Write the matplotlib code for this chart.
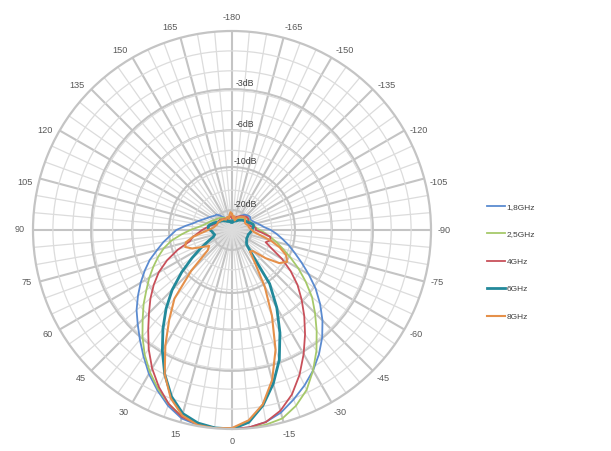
import numpy as np
import matplotlib
matplotlib.use("Agg")
import matplotlib.pyplot as plt

# ---- data -------------------------------------------------------------
angles_deg = list(range(-180, 181, 5))

series_names = ["1,8GHz", "2,5GHz", "4GHz", "6GHz", "8GHz"]

r_18 = [0.05, 0.05, 0.055, 0.06, 0.065, 0.07, 0.08, 0.09, 0.10, 0.105, 0.11, 0.112, 0.105,
        0.11, 0.118, 0.13, 0.145, 0.163, 0.195, 0.225, 0.257, 0.295, 0.335, 0.385, 0.445,
        0.513, 0.578, 0.643, 0.705, 0.762, 0.815, 0.862, 0.906, 0.95, 0.98, 0.996,
        1.0,
        0.998, 0.995, 0.98, 0.94, 0.888, 0.835, 0.775, 0.72, 0.67, 0.626, 0.577, 0.53,
        0.484, 0.44, 0.39, 0.35, 0.31, 0.28, 0.235, 0.197, 0.175, 0.155, 0.14, 0.13,
        0.12, 0.112, 0.11, 0.095, 0.08, 0.07, 0.065, 0.06, 0.055, 0.05, 0.05, 0.05]

r_25 = [0.04, 0.045, 0.05, 0.055, 0.06, 0.065, 0.07, 0.075, 0.08, 0.085, 0.09, 0.095, 0.10,
        0.10, 0.105, 0.11, 0.115, 0.122, 0.14, 0.165, 0.194, 0.23, 0.27, 0.322, 0.385,
        0.452, 0.525, 0.59, 0.662, 0.74, 0.815, 0.887, 0.94, 0.98, 0.993, 0.999,
        1.0,
        0.998, 0.99, 0.97, 0.93, 0.88, 0.825, 0.765, 0.70, 0.635, 0.58, 0.525, 0.48,
        0.436, 0.395, 0.355, 0.31, 0.255, 0.21, 0.17, 0.145, 0.13, 0.12, 0.11, 0.10,
        0.095, 0.09, 0.085, 0.08, 0.075, 0.07, 0.065, 0.06, 0.055, 0.05, 0.045, 0.04]

r_4 = [0.06, 0.07, 0.06, 0.065, 0.07, 0.075, 0.08, 0.085, 0.09, 0.095, 0.10, 0.10, 0.095,
       0.09, 0.085, 0.09, 0.10, 0.12, 0.12, 0.15, 0.195, 0.20, 0.18, 0.22, 0.29,
       0.36, 0.43, 0.495, 0.565, 0.64, 0.72, 0.803, 0.88, 0.94, 0.98, 0.995,
       1.0,
       0.998, 0.99, 0.973, 0.93, 0.87, 0.803, 0.73, 0.655, 0.59, 0.535, 0.48, 0.425,
       0.36, 0.29, 0.22, 0.20, 0.17, 0.15, 0.13, 0.115, 0.10, 0.09, 0.085, 0.08,
       0.08, 0.08, 0.075, 0.07, 0.07, 0.065, 0.06, 0.06, 0.06, 0.065, 0.07, 0.06]

r_6 = [0.04, 0.04, 0.045, 0.045, 0.05, 0.05, 0.055, 0.06, 0.065, 0.07, 0.075, 0.08, 0.085,
       0.09, 0.10, 0.11, 0.11, 0.105, 0.10, 0.095, 0.09, 0.085, 0.085, 0.085, 0.085,
       0.09, 0.095, 0.105, 0.15, 0.33, 0.45, 0.57, 0.695, 0.80, 0.895, 0.97,
       1.0,
       0.998, 0.985, 0.955, 0.89, 0.80, 0.70, 0.605, 0.515, 0.425, 0.33, 0.245, 0.18,
       0.13, 0.10, 0.09, 0.095, 0.10, 0.11, 0.12, 0.12, 0.11, 0.10, 0.09, 0.08,
       0.075, 0.07, 0.065, 0.06, 0.055, 0.05, 0.05, 0.045, 0.045, 0.04, 0.04, 0.04]

r_8 = [0.08, 0.06, 0.07, 0.05, 0.06, 0.07, 0.075, 0.08, 0.085, 0.09, 0.085, 0.08, 0.075,
       0.075, 0.08, 0.085, 0.085, 0.09, 0.10, 0.11, 0.14, 0.20, 0.255, 0.30, 0.32,
       0.29, 0.22, 0.15, 0.14, 0.20, 0.33, 0.475, 0.64, 0.78, 0.89, 0.96,
       0.995,
       1.0, 0.995, 0.965, 0.90, 0.80, 0.67, 0.55, 0.45, 0.29, 0.16, 0.14, 0.17,
       0.22, 0.25, 0.24, 0.20, 0.15, 0.12, 0.10, 0.09, 0.085, 0.08, 0.08, 0.08,
       0.075, 0.075, 0.07, 0.07, 0.065, 0.06, 0.065, 0.07, 0.06, 0.075, 0.09, 0.08]

series_values = [r_18, r_25, r_4, r_6, r_8]

theta_tick_deg = [0, 15, 30, 45, 60, 75, 90, 105, 120, 135, 150, 165, 180,
                  -165, -150, -135, -120, -105, -90, -75, -60, -45, -30, -15]
theta_tick_labels = ["0", "15", "30", "45", "60", "75", "90", "105", "120", "135", "150", "165",
                     "-180", "-165", "-150", "-135", "-120", "-105", "-90", "-75", "-60",
                     "-45", "-30", "-15"]

db_levels = [-3, -6, -10, -20]
db_labels = ["-3dB", "-6dB", "-10dB", "-20dB"]

# ---- style ------------------------------------------------------------
colors = ["#5B8BD0", "#A6C96A", "#C8505A", "#23899A", "#E5904A"]
widths = [1.3, 1.3, 1.3, 2.0, 1.5]
font = "Liberation Sans"
txt_col = "#595959"
major_col = "#C4C4C4"
minor_col = "#DCDCDC"

W, H = 611, 451
fig = plt.figure(figsize=(W / 100, H / 100), dpi=100)
cx, cy, R = 232, 230, 199
ax = fig.add_axes([(cx - R) / W, 1 - (cy + R) / H, 2 * R / W, 2 * R / H], projection="polar")
ax.set_theta_zero_location("S")
ax.set_theta_direction(-1)
ax.set_ylim(0, 1)

# grid
ax.set_xticks(np.deg2rad(np.arange(0, 360, 15)))
ax.set_xticks(np.deg2rad([a for a in range(0, 360, 5) if a % 15]), minor=True)
ring_major = [10 ** (d / 20) for d in db_levels]
ax.set_yticks(ring_major)
ax.set_yticks([0.1 * k for k in range(1, 10)], minor=True)
ax.set_xticklabels([])
ax.set_yticklabels([])
ax.tick_params(which="both", length=0)
ax.grid(which="major", color=major_col, lw=1.5)
ax.grid(which="minor", color=minor_col, lw=0.9)
ax.spines["polar"].set_color(major_col)
ax.spines["polar"].set_linewidth(1.6)

# series
handles = []
for name, vals, c, lw in zip(series_names, series_values, colors, widths):
    h, = ax.plot(np.deg2rad(angles_deg), vals, color=c, lw=lw, label=name,
                 solid_joinstyle="round")
    handles.append(h)

# dB labels
for lev, lab in zip(ring_major, db_labels):
    ax.annotate(lab, xy=(np.pi, lev), xytext=(13, 6), textcoords="offset pixels",
                ha="center", va="center", fontsize=6.3, family=font, color="#404040")

# angle labels (centred on a ring just outside the plot, nudged toward the horizontal)
label_r = 212 / R
for a, lab in zip(theta_tick_deg, theta_tick_labels):
    aa = abs(a)
    if 0 < aa < 90:
        shift = 0.6
    elif 90 < aa < 180:
        shift = -2.0
    else:
        shift = 0.0
    a_lab = a + np.sign(a) * shift
    ax.text(np.deg2rad(a_lab), label_r, lab, ha="center", va="center", fontsize=6.6,
            family=font, color=txt_col, clip_on=False)

# legend
leg = fig.legend(handles=handles, labels=series_names, loc="upper left",
                 bbox_to_anchor=(487 / W, 1 - 203 / H), frameon=False,
                 prop={"family": font, "size": 6}, labelcolor="#404040",
                 handlelength=2.2, handletextpad=0.15, labelspacing=2.35,
                 borderaxespad=0, borderpad=0)

fig.savefig("out.png", dpi=100)
